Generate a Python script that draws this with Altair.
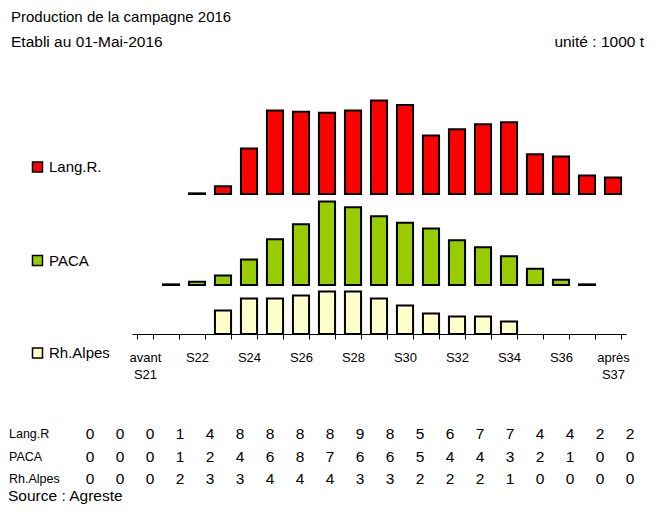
import json
import altair as alt
import pandas as pd

# ---------------- data ----------------
weeks = ["avant S21", "S21", "S22", "S23", "S24", "S25", "S26", "S27", "S28",
         "S29", "S30", "S31", "S32", "S33", "S34", "S35", "S36", "S37", "après S37"]

lang_r = [0, 0, 0.06, 0.71, 4.14, 7.6, 7.47, 7.38, 7.6, 8.5, 8.1, 5.32, 5.89,
          6.35, 6.53, 3.62, 3.41, 1.68, 1.5]
paca = [0, 0.06, 0.29, 0.86, 2.32, 4.16, 5.53, 7.6, 7.07, 6.25, 5.65, 5.14,
        4.07, 3.44, 2.62, 1.47, 0.47, 0.06, 0]
rh_alpes = [0, 0, 0, 2.14, 3.23, 3.23, 3.5, 3.86, 3.86, 3.23, 2.6, 1.86, 1.59,
            1.59, 1.14, 0, 0, 0, 0]

table_rows = ["Lang.R", "PACA", "Rh.Alpes"]
tab_lang = [0, 0, 0, 1, 4, 8, 8, 8, 8, 9, 8, 5, 6, 7, 7, 4, 4, 2, 2]
tab_paca = [0, 0, 0, 1, 2, 4, 6, 8, 7, 6, 6, 5, 4, 4, 3, 2, 1, 0, 0]
tab_rh = [0, 0, 0, 2, 3, 3, 4, 4, 4, 3, 3, 2, 2, 2, 1, 0, 0, 0, 0]

series_names = ["Lang.R.", "PACA", "Rh.Alpes"]
series_colors = ["#FF0000", "#99CC00", "#FFFFCC"]

title_1 = "Production de la campagne 2016"
title_2 = "Etabli au 01-Mai-2016"
unit_txt = "unité : 1000 t"
source_txt = "Source : Agreste"

# ---------------- layout ----------------
FONT = "Liberation Sans"
W, H = 640, 326
X_RANGE = [124, 618]

odd_weeks = weeks[1::2]
label_expr = ("(datum.value == null || indexof(" + json.dumps(odd_weeks, ensure_ascii=False) +
              ", datum.value) >= 0) ? '' : split(datum.value, ' ')")


def x_enc(axis):
    return alt.X(
        "week:N",
        sort=weeks,
        scale=alt.Scale(type="band", domain=weeks, range=X_RANGE,
                        paddingInner=0.38, paddingOuter=0.19),
        axis=axis,
    )


def bar_layer(name, values, color, y_range, legend_y, axis):
    df = pd.DataFrame({"week": weeks, "v": values, "series": name})
    return (
        alt.Chart(df)
        .transform_filter("datum.v > 0")
        .mark_bar(stroke="black", strokeWidth=2)
        .encode(
            x=x_enc(axis),
            y=alt.Y("v:Q", scale=alt.Scale(domain=[0, 10], range=y_range,
                                           nice=False, zero=True), axis=None),
            color=alt.Color(
                "series:N",
                scale=alt.Scale(domain=[name], range=[color]),
                legend=alt.Legend(
                    orient="none", legendX=22, legendY=legend_y, title=None,
                    symbolType="square", symbolSize=100,
                    symbolStrokeColor="black", symbolStrokeWidth=1.5,
                    symbolOpacity=1, labelFontSize=15, labelFont=FONT,
                    labelColor="black", labelOffset=4, padding=0,
                ),
            ),
        )
    )


x_axis = alt.Axis(
    title=None, labelExpr=label_expr, tickBand="extent", labelAngle=0,
    labelFontSize=13, labelFont=FONT, labelColor="black", domainColor="black",
    tickColor="black", tickSize=5, labelPadding=12, labelLineHeight=17,
    labelOverlap=False, grid=False, domainWidth=1, tickWidth=1,
)

lang_layer = bar_layer(series_names[0], lang_r, series_colors[0], [186, 76], 151.5, None)
paca_layer = bar_layer(series_names[1], paca, series_colors[1], [277, 167], 245, None)
rh_layer = bar_layer(series_names[2], rh_alpes, series_colors[2], [326, 216], 337.5, x_axis)


def text_layer(txt, x, y, size, align="left"):
    return (
        alt.Chart(pd.DataFrame({"t": [txt]}))
        .mark_text(align=align, baseline="alphabetic", font=FONT, fontSize=size, color="black")
        .encode(text="t:N", x=alt.value(x), y=alt.value(y))
    )


# table below the chart
tab_records = []
for rname, vals in zip(table_rows, [tab_lang, tab_paca, tab_rh]):
    for i, v in enumerate(vals):
        tab_records.append({"row": rname, "col": i, "val": str(v)})
tab_df = pd.DataFrame(tab_records)

row_scale = alt.Scale(type="point", domain=table_rows, range=[426, 471], padding=0)

table_vals = (
    alt.Chart(tab_df)
    .mark_text(align="center", baseline="middle", font=FONT, fontSize=15.5, color="black")
    .encode(
        x=alt.X("col:O", scale=alt.Scale(type="point", domain=list(range(19)),
                                         range=[82, 622], padding=0), axis=None),
        y=alt.Y("row:N", scale=row_scale, axis=None),
        text="val:N",
    )
)

table_labels = (
    alt.Chart(pd.DataFrame({"row": table_rows}))
    .mark_text(align="left", baseline="middle", font=FONT, fontSize=12.5, color="black")
    .encode(
        x=alt.value(1),
        y=alt.Y("row:N", scale=row_scale, axis=None),
        text="row:N",
    )
)

chart = (
    alt.layer(
        lang_layer, paca_layer, rh_layer,
        text_layer(title_1, 3, 14, 15),
        text_layer(title_2, 3, 39, 15.5),
        text_layer(unit_txt, 636, 39, 15.5, align="right"),
        table_vals, table_labels,
        text_layer(source_txt, 0, 493, 15.5),
    )
    .resolve_scale(x="independent", y="independent", color="independent")
    .resolve_legend(color="independent")
    .properties(
        width=W, height=H,
        autosize=alt.AutoSizeParams(type="none"),
        padding={"left": 0, "top": 0, "right": 0, "bottom": 170},
        background="white",
    )
    .configure_view(stroke="transparent")
)

chart.save("out.html", embed_options={"renderer": "svg", "actions": False})
